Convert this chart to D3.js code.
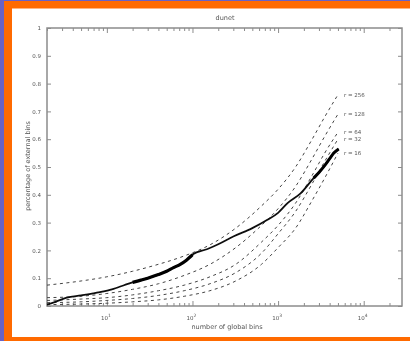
<!DOCTYPE html>
<html><head><meta charset="utf-8">
<script src="https://cdn.jsdelivr.net/npm/d3@7"></script>
<style>html,body{margin:0;padding:0;background:#fff;}svg{display:block;}</style>
</head><body>
<svg id="c" width="410" height="341"></svg>
<script>
// ---- data ----
const titleText = "dunet";
const xLabelText = "number of global bins";
const yLabelText = "percentage of external bins";
const yTickValues = [0, 0.1, 0.2, 0.3, 0.4, 0.5, 0.6, 0.7, 0.8, 0.9, 1];
const yTickLabels = ["0", "0.1", "0.2", "0.3", "0.4", "0.5", "0.6", "0.7", "0.8", "0.9", "1"];
const xMajorTicks = [10, 100, 1000, 10000];
const xTickExponents = ["1", "2", "3", "4"];

// dashed model curves (shared x)
const curveX = [2, 5, 10, 20, 40, 80, 160, 320, 640, 1000, 1600, 2500, 3500, 5000];
const curveR1 = [0.075, 0.09, 0.105, 0.125, 0.15, 0.18, 0.22, 0.28, 0.36, 0.42, 0.50, 0.60, 0.68, 0.76];
const curveR2 = [0.03, 0.035, 0.045, 0.06, 0.08, 0.11, 0.15, 0.21, 0.29, 0.35, 0.43, 0.53, 0.61, 0.69];
const curveR3 = [0.02, 0.025, 0.03, 0.04, 0.055, 0.075, 0.105, 0.15, 0.23, 0.29, 0.37, 0.47, 0.55, 0.625];
const curveR4 = [0.012, 0.015, 0.02, 0.027, 0.038, 0.055, 0.08, 0.12, 0.19, 0.26, 0.34, 0.44, 0.52, 0.60];
const curveR5 = [0.005, 0.007, 0.01, 0.015, 0.022, 0.035, 0.055, 0.09, 0.15, 0.21, 0.28, 0.38, 0.46, 0.55];
const curveLabels = ["r = 256", "r = 128", "r = 64", "r = 32", "r = 16"];

// measured series (black)
const measX = [2, 2.5, 3.4, 5, 8.3, 12, 20, 25, 30, 40, 50, 60, 72, 85, 95, 100, 150, 200, 300, 500, 750, 1000, 1290, 1830, 2600, 3000, 3600, 4000, 4470, 5100];
const measY = [0.005, 0.015, 0.03, 0.038, 0.05, 0.062, 0.085, 0.093, 0.10, 0.113, 0.125, 0.138, 0.15, 0.165, 0.178, 0.185, 0.205, 0.222, 0.25, 0.28, 0.31, 0.335, 0.37, 0.405, 0.46, 0.48, 0.51, 0.53, 0.55, 0.565];

// ---- drawing ----
const svg = d3.select("#c");
svg.append("rect").attr("x",0).attr("y",0).attr("width",410).attr("height",341).attr("fill","#ff6a00");
svg.append("rect").attr("x",0).attr("y",0).attr("width",410).attr("height",1).attr("fill","#6a62c4");
svg.append("rect").attr("x",0).attr("y",0).attr("width",4).attr("height",341).attr("fill","#6a62c4");
svg.append("rect").attr("x",12).attr("y",8.5).attr("width",398).attr("height",328.5).attr("fill","#fff");

const defs = svg.append("defs");
defs.append("filter").attr("id","soft").attr("x","-5%").attr("y","-5%").attr("width","110%").attr("height","110%")
  .append("feGaussianBlur").attr("stdDeviation",0.55);

const g = svg.append("g").attr("filter","url(#soft)");

const L = 47, R = 402, T = 28, B = 306;
const x = d3.scaleLog().domain([2, 28000]).range([L, R]);
const y = d3.scaleLinear().domain([0, 1]).range([B, T]);

const fontFam = "'DejaVu Sans', Arial, sans-serif";
const axisCol = "#8c8c8c";
const textCol = "#555";

// frame
g.append("rect").attr("x",L).attr("y",T).attr("width",R-L).attr("height",B-T)
  .attr("fill","none").attr("stroke",axisCol).attr("stroke-width",1.5);

// y ticks via axis generators
const yAxisL = d3.axisLeft(y).tickValues(yTickValues).tickSize(-4).tickFormat((d,i)=>yTickLabels[i]).tickPadding(6);
const gyl = g.append("g").attr("transform",`translate(${L},0)`).call(yAxisL);
gyl.select(".domain").remove();
gyl.selectAll("line").attr("stroke",axisCol).attr("stroke-width",1);
gyl.selectAll("text").attr("fill",textCol).style("font-family",fontFam).style("font-size","5.5px");
const yAxisR = d3.axisRight(y).tickValues(yTickValues).tickSize(-4).tickFormat("");
const gyr = g.append("g").attr("transform",`translate(${R},0)`).call(yAxisR);
gyr.select(".domain").remove();
gyr.selectAll("line").attr("stroke",axisCol).attr("stroke-width",1);

// x ticks
const minorTicks = [];
for (let e = 0; e <= 4; e++) for (let k = 2; k <= 9; k++) { const v = k*Math.pow(10,e); if (v >= 2 && v <= 28000) minorTicks.push(v); }
[[B,-1],[T,1]].forEach(([yy,dir])=>{
  const ax = dir<0 ? d3.axisBottom(x) : d3.axisTop(x);
  const gm = g.append("g").attr("transform",`translate(0,${yy})`).call(ax.tickValues(minorTicks).tickSize(-3).tickFormat(""));
  gm.select(".domain").remove(); gm.selectAll("line").attr("stroke",axisCol).attr("stroke-width",1);
  const gM = g.append("g").attr("transform",`translate(0,${yy})`).call((dir<0 ? d3.axisBottom(x) : d3.axisTop(x)).tickValues(xMajorTicks).tickSize(-5).tickFormat(""));
  gM.select(".domain").remove(); gM.selectAll("line").attr("stroke",axisCol).attr("stroke-width",1);
});
// x tick labels 10^n
xMajorTicks.forEach((v,i)=>{
  const t = g.append("text").attr("x", x(v)-1).attr("y", 320).attr("text-anchor","middle")
    .attr("fill",textCol).style("font-family",fontFam).style("font-size","5.5px");
  t.append("tspan").text("10");
  t.append("tspan").attr("dy",-3).style("font-size","4.5px").text(xTickExponents[i]);
});

// labels
g.append("text").attr("x",225).attr("y",20).attr("text-anchor","middle").attr("fill",textCol)
  .style("font-family",fontFam).style("font-size","6.5px").text(titleText);
g.append("text").attr("x",227).attr("y",329).attr("text-anchor","middle").attr("fill",textCol)
  .style("font-family",fontFam).style("font-size","6.5px").text(xLabelText);
g.append("text").attr("transform","translate(30,166) rotate(-90)").attr("text-anchor","middle").attr("fill",textCol)
  .style("font-family",fontFam).style("font-size","6.5px").text(yLabelText);

// dashed curves
const line = d3.line().x(d=>x(d[0])).y(d=>y(d[1])).curve(d3.curveMonotoneX);
const curves = [curveR1, curveR2, curveR3, curveR4, curveR5];
curves.forEach((vals,i)=>{
  const pts = curveX.map((xv,j)=>[xv, vals[j]]);
  g.append("path").attr("d", line(pts)).attr("fill","none").attr("stroke","#444")
    .attr("stroke-width",1).attr("stroke-dasharray","3,3.5");
  const last = pts[pts.length-1];
  g.append("text").attr("x", x(last[0])+6).attr("y", y(last[1])+2).attr("fill",textCol)
    .style("font-family",fontFam).style("font-size","5.5px").text(curveLabels[i]);
});

// measured black series
const mpts = measX.map((xv,j)=>[xv, measY[j]]);
g.append("path").attr("d", line(mpts)).attr("fill","none").attr("stroke","#111").attr("stroke-width",1.8);
const dense1 = mpts.filter(d=>d[0]>=20 && d[0]<=100);
g.append("path").attr("d", line(dense1)).attr("fill","none").attr("stroke","#000").attr("stroke-width",3.2);
const dense2 = mpts.filter(d=>d[0]>=2600);
g.append("path").attr("d", line(dense2)).attr("fill","none").attr("stroke","#000").attr("stroke-width",3);
</script>
</body></html>
